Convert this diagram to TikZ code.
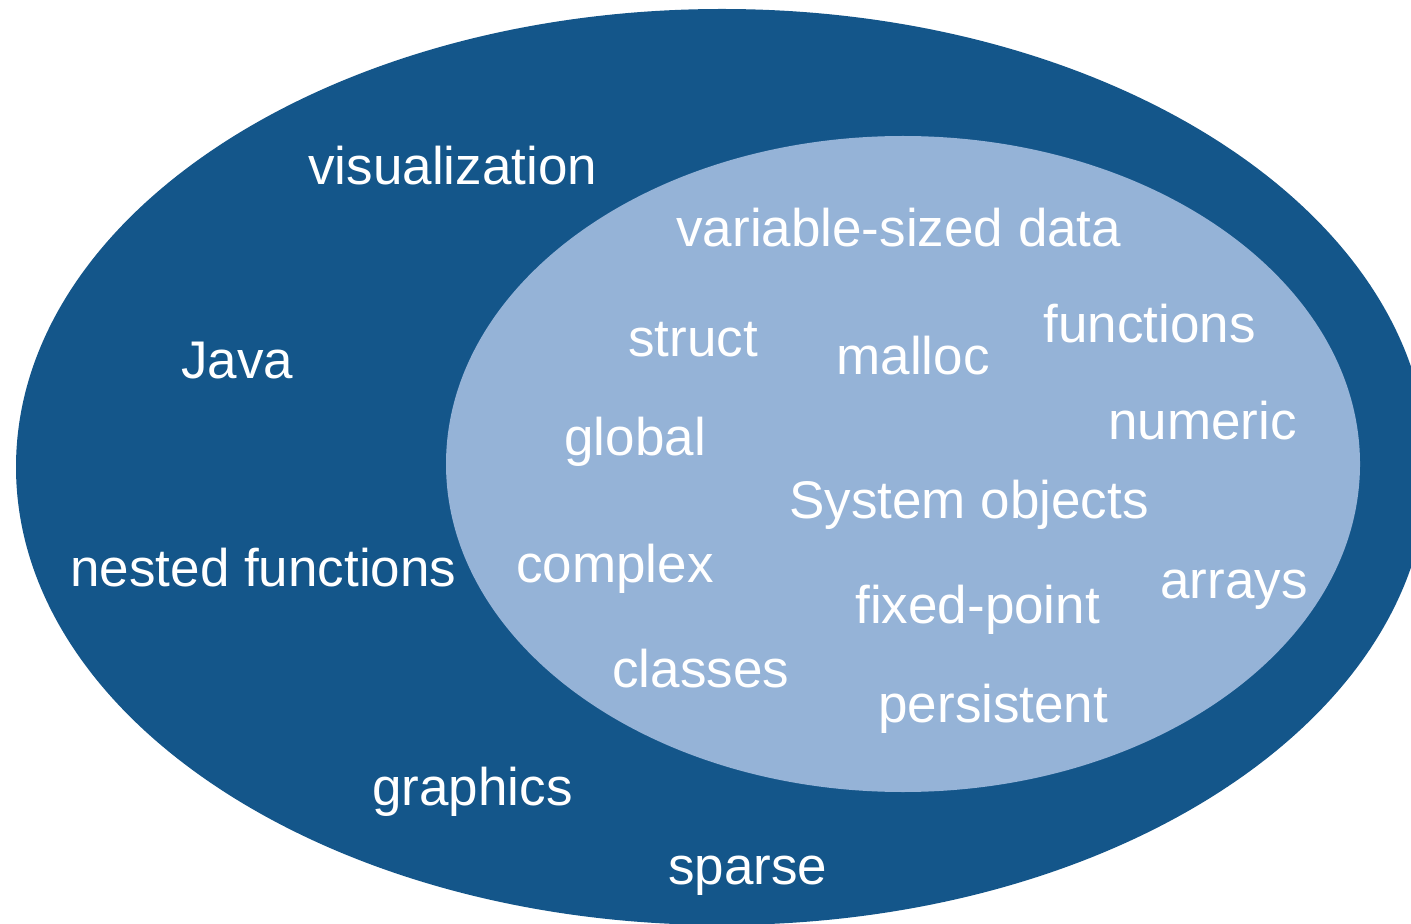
\documentclass[tikz,border=0pt]{standalone}
\usepackage{fontspec}
\setmainfont{Liberation Sans}
\definecolor{outerblue}{RGB}{20,86,138}
\definecolor{innerblue}{RGB}{149,179,215}
\begin{document}
\begin{tikzpicture}[x=0.5pt,y=-0.5pt,
  term/.style={anchor=base west,inner sep=0pt,text=white,
    font=\fontsize{26.5}{30}\selectfont}]
  \useasboundingbox (0,0) rectangle (1411,924);
  \clip (0,0) rectangle (1411,924);
  % outer set and the inner set nested inside it
  \fill[outerblue] (722,467) ellipse [x radius=353pt, y radius=229pt];
  \fill[innerblue] (903,464) ellipse [x radius=228.5pt, y radius=164pt];
  % terms outside the inner set
  \node[term] (visualization) at (308,185) {visualization};
  \node[term] (java) at (181,379) {Java};
  \node[term] (nested) at (70,586) {nested functions};
  \node[term] (graphics) at (372,805) {graphics};
  \node[term] (sparse) at (668,884) {sparse};
  % terms inside the inner set
  \node[term] (vardata) at (676,247) {variable-sized data};
  \node[term] (struct) at (628,357) {struct};
  \node[term] (malloc) at (836,375) {malloc};
  \node[term] (functions) at (1043,343) {functions};
  \node[term] (global) at (564,455) {global};
  \node[term] (numeric) at (1108,439) {numeric};
  \node[term] (sysobj) at (789,518) {System objects};
  \node[term] (complex) at (516,582) {complex};
  \node[term] (arrays) at (1160,598) {arrays};
  \node[term] (fixed) at (855,623) {fixed-point};
  \node[term] (classes) at (612,687) {classes};
  \node[term] (persistent) at (878,722) {persistent};
\end{tikzpicture}
\end{document}
